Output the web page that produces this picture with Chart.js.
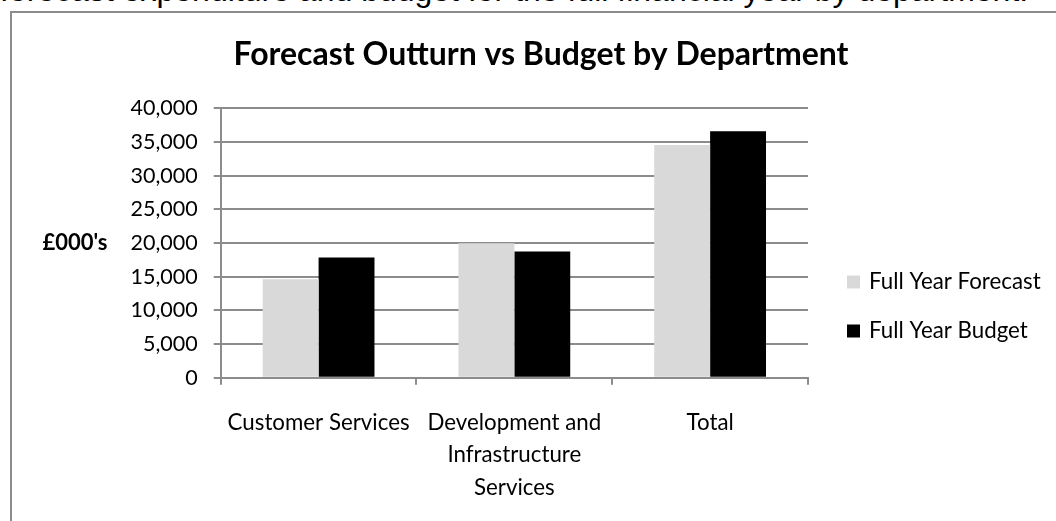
<!DOCTYPE html>
<html>
<head>
<meta charset="utf-8">
<script src="https://cdn.jsdelivr.net/npm/chart.js@4.4.1/dist/chart.umd.min.js"></script>
<style>
  html, body { margin: 0; padding: 0; background: #fff; overflow: hidden; }
  #wrap { position: relative; width: 1056px; height: 521px; overflow: hidden; }
  #intro { position: absolute; left: 0; top: -26.5px; font: 32px/32px "Liberation Sans", Arial, sans-serif; white-space: nowrap; color: #000; }
  #frame { position: absolute; left: 10px; top: 11px; width: 1100px; height: 600px; border-left: 2px solid #8c8c8c; border-top: 2px solid #8c8c8c; }
  canvas { position: absolute; left: 0; top: 0; }
</style>
</head>
<body>
<div id="wrap">
  <div id="intro">forecast expenditure and budget for the full financial year by department.</div>
  <div id="frame"></div>
  <canvas id="chart" width="1056" height="521"></canvas>
</div>
<script>
// Departments shown along the x axis (split into lines as they wrap)
const categories = [
  ["Customer Services"],
  ["Development and", "Infrastructure", "Services"],
  ["Total"]
];
// £000's per department
const forecastValues = [14600, 19950, 34550];
const budgetValues = [17850, 18750, 36600];
const seriesNames = ["Full Year Forecast", "Full Year Budget"];
const seriesColors = ["#d9d9d9", "#000000"];
const yTickValues = [0, 5000, 10000, 15000, 20000, 25000, 30000, 35000, 40000];
const chartTitle = "Forecast Outturn vs Budget by Department";
const axisTitle = "£000's";

const FONT = "Lato, 'Open Sans', sans-serif";
const GRID = "#8c8c8c";

// Title, horizontal y-axis caption and the right-hand legend
const decorations = {
  id: "decorations",
  afterDraw(chart) {
    const ctx = chart.ctx;
    const yScale = chart.scales.y;
    ctx.save();
    ctx.fillStyle = "#000";
    ctx.textBaseline = "middle";

    ctx.font = "bold 32px " + FONT;
    ctx.textAlign = "center";
    ctx.fillText(chartTitle, 541, 55);

    ctx.font = "bold 22px " + FONT;
    ctx.fillText(axisTitle, 75, yScale.getPixelForValue(20000));

    ctx.font = "22.3px " + FONT;
    ctx.textAlign = "left";
    const rows = [282, 331];
    chart.data.datasets.forEach((ds, i) => {
      ctx.fillStyle = ds.backgroundColor;
      ctx.fillRect(847, rows[i] - 6.5, 13, 13);
      ctx.fillStyle = "#000";
      ctx.fillText(ds.label, 869, rows[i]);
    });
    ctx.restore();
  }
};

new Chart(document.getElementById("chart"), {
  type: "bar",
  data: {
    labels: categories,
    datasets: [
      { label: seriesNames[0], data: forecastValues, backgroundColor: seriesColors[0], borderWidth: 0 },
      { label: seriesNames[1], data: budgetValues, backgroundColor: seriesColors[1], borderWidth: 0 }
    ]
  },
  options: {
    responsive: false,
    animation: false,
    events: [],
    layout: { padding: { left: 120, right: 248, top: 108.3, bottom: 23.3 } },
    datasets: { bar: { categoryPercentage: 0.571, barPercentage: 1.0 } },
    plugins: { legend: { display: false }, tooltip: { enabled: false }, title: { display: false } },
    scales: {
      x: {
        afterFit(scale) { scale.height = 120; },
        border: { display: true, color: GRID, width: 2 },
        grid: { display: true, drawOnChartArea: false, drawTicks: true, tickLength: 7, color: GRID, lineWidth: 2, offset: true },
        ticks: { color: "#000", font: { family: FONT, size: 22.3, lineHeight: 1.45 }, padding: 22, maxRotation: 0, autoSkip: false }
      },
      y: {
        min: 0,
        max: 40000,
        afterFit(scale) { scale.width = 100.7; },
        afterBuildTicks(scale) { scale.ticks = yTickValues.map(v => ({ value: v })); },
        border: { display: true, color: GRID, width: 2 },
        grid: { color: GRID, lineWidth: 2, tickLength: 7, drawTicks: true },
        ticks: {
          color: "#000",
          font: { family: FONT, size: 21.5 },
          padding: 16,
          callback: v => v.toLocaleString("en-GB")
        }
      }
    }
  },
  plugins: [decorations]
});
</script>
</body>
</html>
